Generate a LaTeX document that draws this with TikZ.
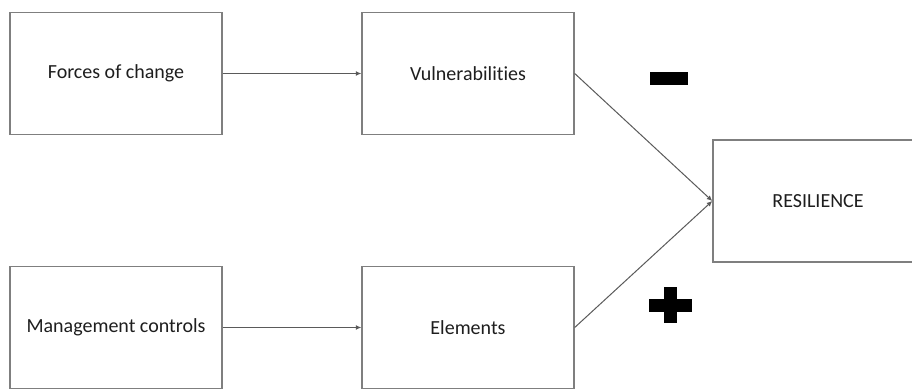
\documentclass[tikz,border=0pt]{standalone}
\usepackage{fontspec}
\setmainfont{Carlito}[RawFeature={-liga;-clig;-dlig}]
\usetikzlibrary{arrows.meta}
\definecolor{boxgray}{HTML}{7F7F7F}
\definecolor{linkgray}{HTML}{5A5A5A}
\definecolor{textdark}{HTML}{1E1E1E}
\begin{document}
\begin{tikzpicture}[x=1pt,y=-1pt,
  box/.style={draw=boxgray, line width=1.4pt, fill=white,
    minimum width=212pt, minimum height=122pt, inner sep=0pt,
    font=\fontsize{20}{24}\selectfont, text=textdark},
  link/.style={draw=linkgray, line width=1pt,
    -{Latex[length=5.5pt,width=5pt]}}]
\useasboundingbox (0,0) rectangle (912,390);
\clip (0,0) rectangle (912,390);
\fill[white] (0,0) rectangle (912,390);

% boxes
\node[box] (forces) at (116,73.5) {Forces of change};
\node[box] (vuln)   at (468,73.5) {Vulnerabilities};
\node[box] (mgmt)   at (116,327.5) {Management controls};
\node[box] (elem)   at (468,327.5) {Elements};
\node[box, minimum width=210pt] (res) at (818,201) {RESILIENCE};

% connectors
\draw[link] (forces.east) -- (vuln.west);
\draw[link] (mgmt.east) -- (elem.west);
\draw[link] (vuln.east) -- (res.west);
\draw[link] (elem.east) -- (res.west);

% signs
\fill[black] (650,72) rectangle (688,85);
\fill[black] (649,299) rectangle (692,311.5);
\fill[black] (664,287) rectangle (676.5,323);
\end{tikzpicture}
\end{document}
